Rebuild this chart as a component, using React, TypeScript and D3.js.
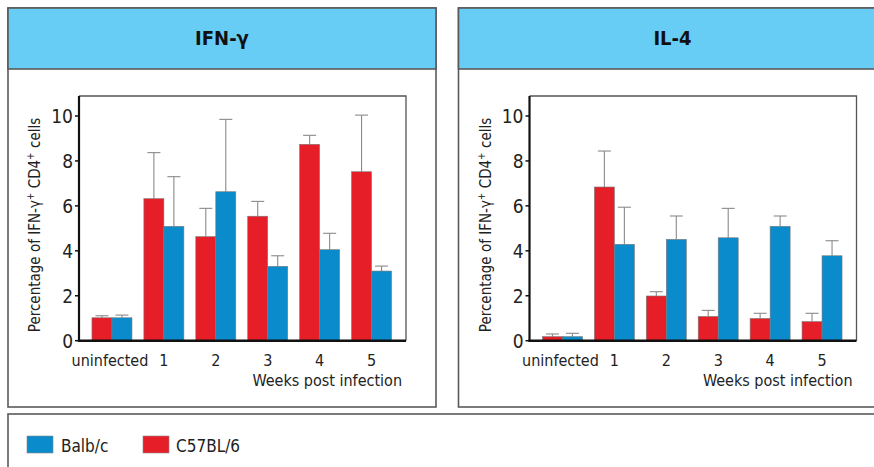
import React from "react";
import * as d3 from "d3";

const categories = ["uninfected", "1", "2", "3", "4", "5"];
const ifnC57 = [1.02, 6.32, 4.63, 5.54, 8.74, 7.52];
const ifnC57Sd = [0.09, 2.05, 1.26, 0.66, 0.4, 2.52];
const ifnBalb = [1.02, 5.09, 6.63, 3.31, 4.05, 3.1];
const ifnBalbSd = [0.12, 2.21, 3.22, 0.47, 0.73, 0.22];
const il4C57 = [0.18, 6.84, 1.99, 1.08, 0.99, 0.85];
const il4C57Sd = [0.12, 1.6, 0.19, 0.27, 0.23, 0.37];
const il4Balb = [0.18, 4.29, 4.51, 4.58, 5.09, 3.78];
const il4BalbSd = [0.15, 1.65, 1.04, 1.31, 0.46, 0.67];
const yTicks = [0, 2, 4, 6, 8, 10];
const panelTitles = ["IFN-γ", "IL-4"];
const seriesNames = ["Balb/c", "C57BL/6"];

const RED = "#e61e27";
const BLUE = "#0a8bcc";
const HEADER = "#68cdf5";
const BORDER = "#5a5a5a";
const FONT = "'Liberation Sans Narrow', 'DejaVu Sans Condensed', 'Liberation Sans', sans-serif";

type PanelProps = {
  ox: number;
  title: string;
  c57: number[];
  c57Sd: number[];
  balb: number[];
  balbSd: number[];
};

function Panel({ ox, title, c57, c57Sd, balb, balbSd }: PanelProps) {
  const plotL = 79 + ox;
  const plotR = 406 + ox;
  const plotT = 96;
  const y = d3.scaleLinear().domain([0, 10]).range([340.7, 116]);
  const x = d3.scaleBand<string>().domain(categories).range([86 + ox, 397.5 + ox]).padding(0);
  const barW = 20;
  const capW = 13;
  const bars: { cx: number; v: number; sd: number; color: string }[] = [];
  categories.forEach((c, i) => {
    const center = (x(c) as number) + x.bandwidth() / 2;
    bars.push({ cx: center - barW / 2, v: c57[i], sd: c57Sd[i], color: RED });
    bars.push({ cx: center + barW / 2, v: balb[i], sd: balbSd[i], color: BLUE });
  });
  const base = y(0);
  return (
    <g>
      {/* outer box */}
      <rect x={8 + ox} y={8} width={428} height={399} fill="white" stroke={BORDER} strokeWidth={1.6} />
      <rect x={8 + ox} y={8} width={428} height={61} fill={HEADER} stroke={BORDER} strokeWidth={1.6} />
      <text x={222 + ox} y={45} textAnchor="middle" fontFamily={FONT} fontWeight="bold" fontSize={20} fill="#111">
        {title}
      </text>
      {/* plot frame top/right */}
      <path d={`M${plotL},${plotT}H${plotR}V${base}`} fill="none" stroke="#555" strokeWidth={1.3} />
      {/* error bars */}
      {bars.map((b, i) => (
        <g key={"e" + i} stroke="#8a8a8a" strokeWidth={1.1}>
          <line x1={b.cx} x2={b.cx} y1={y(b.v)} y2={y(b.v + b.sd)} />
          <line x1={b.cx - capW / 2} x2={b.cx + capW / 2} y1={y(b.v + b.sd)} y2={y(b.v + b.sd)} />
        </g>
      ))}
      {/* bars */}
      {bars.map((b, i) => (
        <rect
          key={"b" + i}
          x={b.cx - barW / 2}
          y={y(b.v)}
          width={barW}
          height={base - y(b.v)}
          fill={b.color}
          stroke="#7a7a7a"
          strokeWidth={0.6}
        />
      ))}
      {/* axes */}
      <line x1={plotL} x2={plotL} y1={plotT} y2={base + 1} stroke="#111" strokeWidth={2.2} />
      <line x1={plotL - 1} x2={plotR} y1={base} y2={base} stroke="#111" strokeWidth={2.5} />
      {yTicks.map((t) => (
        <g key={"t" + t}>
          <line x1={plotL - 4} x2={plotL} y1={y(t)} y2={y(t)} stroke="#111" strokeWidth={1.5} />
          <text x={plotL - 6} y={y(t)} dy="0.36em" textAnchor="end" fontFamily={FONT} fontSize={19} fill="#222">
            {t}
          </text>
        </g>
      ))}
      {categories.map((c) => (
        <text
          key={"x" + c}
          x={(x(c) as number) + x.bandwidth() / 2 - (c === "uninfected" ? 2 : 0)}
          y={366}
          textAnchor="middle"
          fontFamily={FONT}
          fontSize={16}
          fill="#222"
        >
          {c}
        </text>
      ))}
      <text x={plotR - 4} y={386} textAnchor="end" fontFamily={FONT} fontSize={16} fill="#222">
        Weeks post infection
      </text>
      <text
        transform={`translate(${40 + ox},225) rotate(-90)`}
        textAnchor="middle"
        fontFamily={FONT}
        fontSize={15}
        fill="#222"
      >
        Percentage of IFN-γ
        <tspan fontSize={10} dy={-6}>+</tspan>
        <tspan dy={6}> CD4</tspan>
        <tspan fontSize={10} dy={-6}>+</tspan>
        <tspan dy={6}> cells</tspan>
      </text>
    </g>
  );
}

export default function App() {
  return (
    <svg
      width={874}
      height={467}
      style={{ position: "fixed", left: 0, top: 0, background: "white" }}
    >
      <rect x={0} y={0} width={874} height={467} fill="white" />
      <Panel ox={0} title={panelTitles[0]} c57={ifnC57} c57Sd={ifnC57Sd} balb={ifnBalb} balbSd={ifnBalbSd} />
      <Panel ox={450.5} title={panelTitles[1]} c57={il4C57} c57Sd={il4C57Sd} balb={il4Balb} balbSd={il4BalbSd} />
      {/* legend */}
      <rect x={8} y={414} width={900} height={80} fill="white" stroke={BORDER} strokeWidth={1.6} />
      <rect x={27} y={436} width={26} height={17} fill={BLUE} stroke="#888" strokeWidth={0.6} />
      <text x={61} y={452} fontFamily={FONT} fontSize={17} fill="#222">{seriesNames[0]}</text>
      <rect x={143} y={436} width={26} height={17} fill={RED} stroke="#888" strokeWidth={0.6} />
      <text x={176} y={452} fontFamily={FONT} fontSize={17} fill="#222">{seriesNames[1]}</text>
    </svg>
  );
}
